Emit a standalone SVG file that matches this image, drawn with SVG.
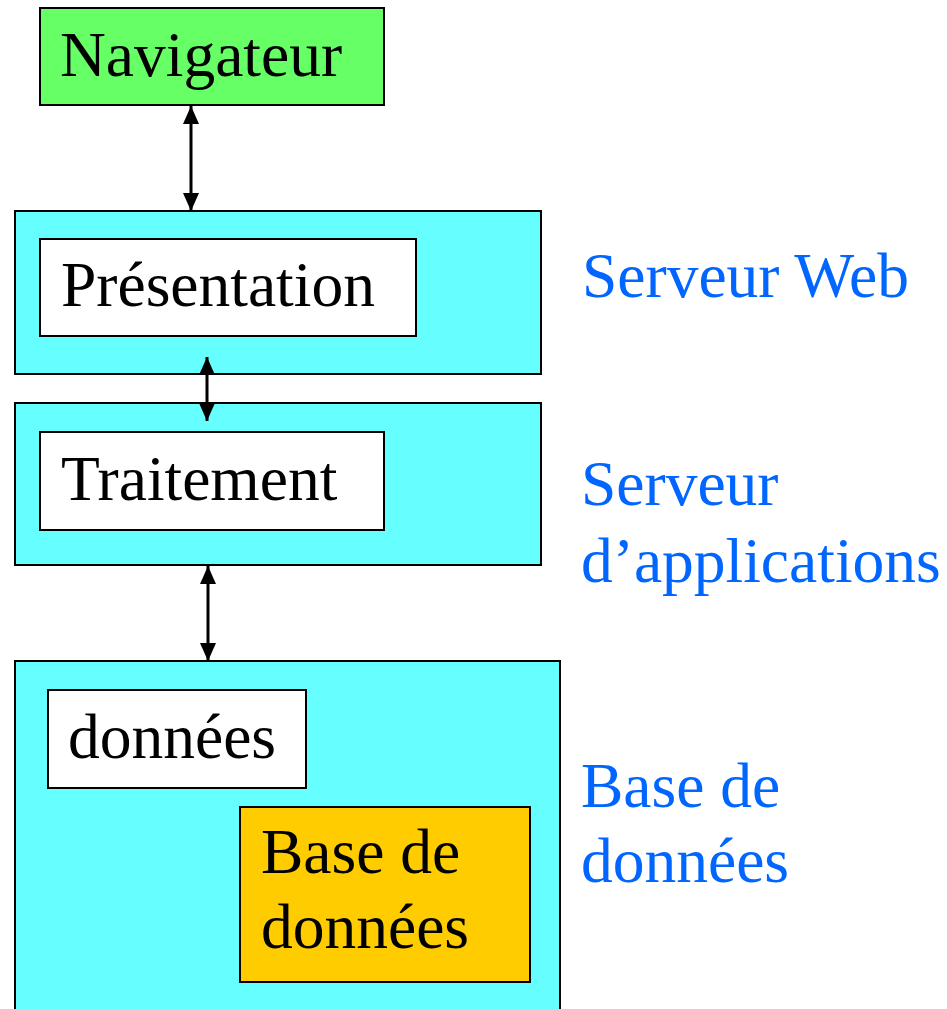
<svg xmlns="http://www.w3.org/2000/svg" width="947" height="1009" viewBox="0 0 947 1009">
<style>
.box{stroke:#000;stroke-width:2}
.t{font-family:"Liberation Serif","Times New Roman",serif;font-size:63.5px;fill:#000}
.lbl{font-family:"Liberation Serif","Times New Roman",serif;font-size:63.5px;fill:#0066FF}
.conn{stroke:#000;stroke-width:3;fill:none}
</style>
<defs>
<marker id="ah" viewBox="0 0 18 16" refX="18" refY="8" markerWidth="18" markerHeight="16" markerUnits="userSpaceOnUse" orient="auto-start-reverse">
<path d="M0,0 L18,8 L0,16 Z" fill="#000"/>
</marker>
</defs>
<rect width="947" height="1009" fill="#fff"/>
<g id="navigateur">
<rect class="box" x="40" y="8" width="344" height="97" fill="#66FF66"/>
<text class="t" x="60" y="76">Navigateur</text>
</g>
<g id="serveur-web">
<rect class="box" x="15" y="211" width="526" height="163" fill="#66FFFF"/>
<text class="lbl" x="582" y="297">Serveur Web</text>
</g>
<g id="presentation">
<rect class="box" x="40" y="239" width="376" height="97" fill="#fff"/>
<text class="t" x="61" y="306">Présentation</text>
</g>
<g id="serveur-applications">
<rect class="box" x="15" y="403" width="526" height="162" fill="#66FFFF"/>
<text class="lbl" x="581" y="505">Serveur</text>
<text class="lbl" x="581" y="582">d’applications</text>
</g>
<g id="traitement">
<rect class="box" x="40" y="432" width="344" height="98" fill="#fff"/>
<text class="t" x="61" y="500">Traitement</text>
</g>
<g id="base-de-donnees-serveur">
<rect class="box" x="15" y="661" width="545" height="360" fill="#66FFFF"/>
<text class="lbl" x="581" y="807">Base de</text>
<text class="lbl" x="581" y="882">données</text>
</g>
<g id="donnees">
<rect class="box" x="48" y="690" width="258" height="98" fill="#fff"/>
<text class="t" x="68" y="758">données</text>
</g>
<g id="base-de-donnees">
<rect class="box" x="240" y="807" width="290" height="175" fill="#FFCC00"/>
<text class="t" x="261" y="873">Base de</text>
<text class="t" x="261" y="948">données</text>
</g>
<g id="connectors">
<line class="conn" x1="191" y1="106" x2="191" y2="211" marker-start="url(#ah)" marker-end="url(#ah)"/>
<line class="conn" x1="207" y1="357" x2="207" y2="421" marker-start="url(#ah)" marker-end="url(#ah)"/>
<line class="conn" x1="208" y1="566" x2="208" y2="661" marker-start="url(#ah)" marker-end="url(#ah)"/>
</g>
</svg>
